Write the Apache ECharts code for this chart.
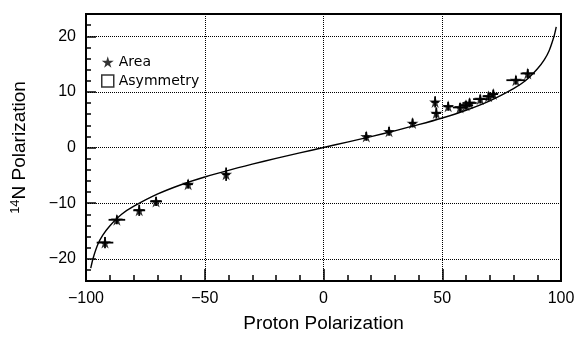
<!DOCTYPE html>
<html>
<head>
<meta charset="utf-8">
<script src="https://cdn.jsdelivr.net/npm/echarts@6/dist/echarts.min.js"></script>
<style>
  html, body { margin: 0; padding: 0; background: #fff; }
  #main { width: 579px; height: 338px; }
</style>
</head>
<body>
<div id="main"></div>
<script>
// 理论曲线（从图上读出的点）
var curveX = [-98, -97, -95, -93, -90, -85, -80, -70, -60, -50, -40, -30, -20, -10, 0, 10, 20, 30, 40, 50, 60, 70, 80, 85, 90, 93, 95, 97, 98];
var curveY = [-21.7, -19.9, -17.4, -15.8, -14.1, -12.0, -10.6, -8.4, -6.7, -5.3, -4.1, -3.0, -1.95, -0.97, 0, 0.97, 1.95, 3.0, 4.1, 5.3, 6.7, 8.4, 10.6, 12.0, 14.1, 15.8, 17.4, 19.9, 21.7];

// 测量点 Area
var areaX = [-92, -87, -77.6, -70.5, -57, -41, 18, 27.6, 37.5, 47, 47.5, 52.5, 57.5, 60, 61.5, 66, 69.5, 71.5, 81, 86];
var areaY = [-17.1, -13, -11.3, -9.7, -6.6, -4.8, 2, 2.9, 4.4, 8.2, 6.2, 7.4, 7.2, 7.6, 8.0, 8.7, 9.2, 9.6, 12.1, 13.3];
var errX = [3.5, 3.5, 2.5, 2.5, 2, 1.5, 1, 1.5, 1.5, 1.5, 2, 2, 3, 3, 3, 3, 2.5, 2, 4, 3];
var errY = [1, 0.8, 1, 0.8, 0.8, 1.2, 0.8, 0.8, 0.8, 1, 1, 0.8, 0.8, 0.8, 0.8, 0.8, 0.8, 0.8, 0.8, 0.8];

var xTicks = [-100, -50, 0, 50, 100];
var yTicks = [-20, -10, 0, 10, 20];

var starPath = 'path://M50,0 L61,35 L98,35 L68,57 L79,91 L50,70 L21,91 L32,57 L2,35 L39,35 Z';

var curveData = curveX.map(function (x, i) { return [x, curveY[i]]; });
var areaData = areaX.map(function (x, i) { return [x, areaY[i]]; });
var errData = areaX.map(function (x, i) { return [x, areaY[i], errX[i], errY[i]]; });

function minus(v) {
  return String(v).replace('-', '\u2212');
}

function renderErr(params, api) {
  var x = api.value(0), y = api.value(1), ex = api.value(2), ey = api.value(3);
  var l = api.coord([x - ex, y]), r = api.coord([x + ex, y]);
  var t = api.coord([x, y + ey]), b = api.coord([x, y - ey]);
  var st = { stroke: '#000', lineWidth: 1.8 };
  return {
    type: 'group',
    children: [
      { type: 'line', shape: { x1: l[0], y1: l[1], x2: r[0], y2: r[1] }, style: st },
      { type: 'line', shape: { x1: t[0], y1: t[1], x2: b[0], y2: b[1] }, style: st }
    ]
  };
}

var myChart = echarts.init(document.getElementById('main'));

var option = {
  animation: false,
  backgroundColor: '#fff',
  grid: {
    left: 86, right: 18, top: 14, bottom: 55,
    show: true, borderColor: '#000', borderWidth: 2
  },
  legend: {
    orient: 'vertical',
    left: 96, top: 50,
    itemWidth: 12, itemHeight: 12, itemGap: 5,
    textStyle: { fontFamily: 'DejaVu Sans', fontSize: 14, color: '#000' },
    data: [
      { name: 'Area', icon: starPath, itemStyle: { color: '#000' } },
      { name: 'Asymmetry', icon: 'rect', itemStyle: { color: '#fff', borderColor: '#000', borderWidth: 1.5 } }
    ]
  },
  xAxis: {
    type: 'value',
    min: xTicks[0], max: xTicks[xTicks.length - 1], interval: 50,
    name: 'Proton Polarization',
    nameLocation: 'middle', nameGap: 33,
    nameTextStyle: { fontFamily: 'Liberation Sans', fontSize: 19, color: '#000' },
    axisLine: { onZero: false, lineStyle: { color: '#000', width: 2 } },
    axisTick: { inside: true, length: 12, lineStyle: { color: '#000', width: 1.5 } },
    minorTick: { show: true, splitNumber: 5, length: 6, lineStyle: { color: '#000', width: 1.5 } },
    axisLabel: { fontFamily: 'Liberation Sans', fontSize: 16, color: '#000', margin: 10, formatter: minus },
    splitLine: { show: true, lineStyle: { color: '#000', type: 'dotted', width: 1 } }
  },
  yAxis: {
    type: 'value',
    min: -24, max: 24, minInterval: 10, maxInterval: 10,
    name: '{sup|14}N Polarization',
    nameLocation: 'middle', nameGap: 55,
    nameTextStyle: {
      fontFamily: 'Liberation Sans', fontSize: 19, color: '#000',
      rich: { sup: { fontFamily: 'Liberation Sans', fontSize: 13, color: '#000', verticalAlign: 'top', lineHeight: 22 } }
    },
    axisLine: { onZero: false, lineStyle: { color: '#000', width: 2 } },
    axisTick: { inside: true, length: 10, lineStyle: { color: '#000', width: 1.5 } },
    minorTick: { show: true, splitNumber: 5, length: 5, lineStyle: { color: '#000', width: 1.5 } },
    axisLabel: {
      fontFamily: 'Liberation Sans', fontSize: 16, color: '#000', margin: 10,
      showMinLabel: false, showMaxLabel: false, formatter: minus
    },
    splitLine: { show: true, lineStyle: { color: '#000', type: 'dotted', width: 1 } }
  },
  series: [
    {
      name: 'curve',
      type: 'line',
      data: curveData,
      showSymbol: false,
      smooth: 0.3,
      lineStyle: { color: '#000', width: 1.4 },
      z: 3
    },
    {
      name: 'err',
      type: 'custom',
      data: errData,
      renderItem: renderErr,
      encode: { x: 0, y: 1 },
      z: 4
    },
    {
      name: 'Area',
      type: 'scatter',
      data: areaData,
      symbol: starPath,
      symbolSize: 12,
      itemStyle: { color: '#000' },
      z: 5
    },
    {
      name: 'Asymmetry',
      type: 'scatter',
      data: [],
      symbol: 'rect',
      itemStyle: { color: '#fff', borderColor: '#000' }
    }
  ]
};

myChart.setOption(option);
</script>
</body>
</html>
